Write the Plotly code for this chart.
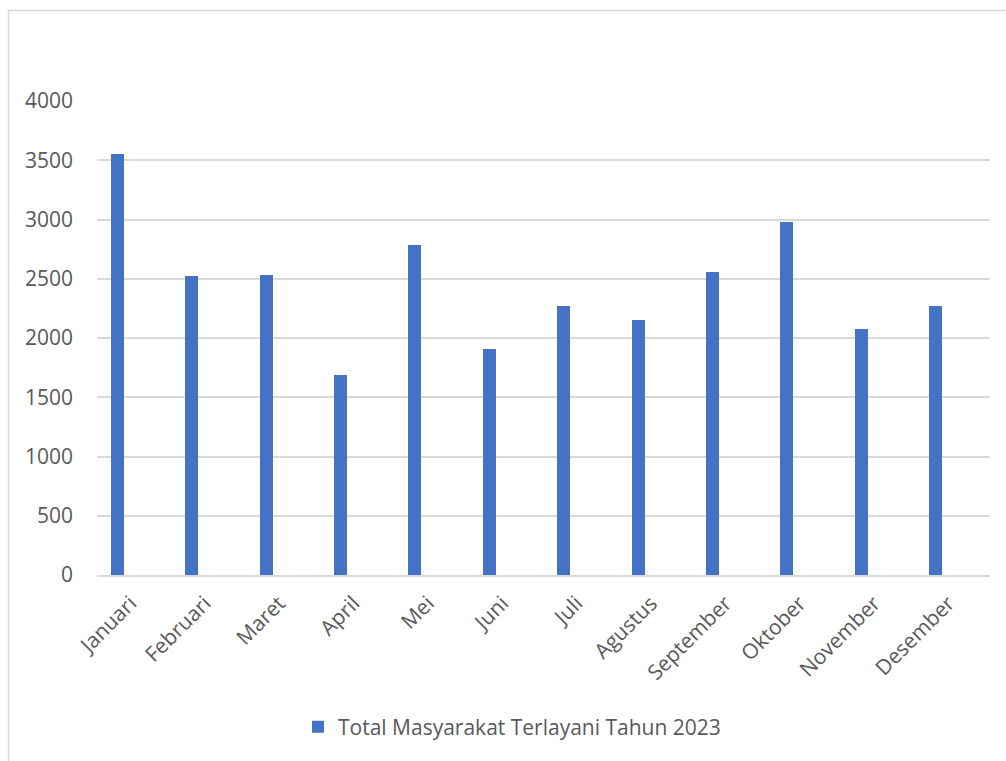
import plotly.graph_objects as go

months = ["Januari", "Februari", "Maret", "April", "Mei", "Juni", "Juli",
          "Agustus", "September", "Oktober", "November", "Desember"]
values = [3552, 2526, 2529, 1692, 2788, 1904, 2272, 2149, 2557, 2980, 2073, 2270]
series_name = "Total Masyarakat Terlayani Tahun 2023"
y_ticks = [0, 500, 1000, 1500, 2000, 2500, 3000, 3500, 4000]

W, H = 1006, 761
L, R, T, B = 97, 16, 101, 186

fig = go.Figure()
fig.add_trace(go.Bar(
    x=months, y=values, name=series_name,
    marker=dict(color="#4472C4", line=dict(width=0)),
    width=0.175,
    showlegend=True,
))

font_family = "Open Sans, Liberation Sans, sans-serif"
fig.update_layout(
    width=W, height=H,
    margin=dict(l=L, r=R, t=T, b=B, pad=0),
    paper_bgcolor="white", plot_bgcolor="white",
    font=dict(family=font_family, size=21, color="#595959"),
    bargap=0,
    xaxis=dict(
        type="category",
        range=[-0.276, 11.733],
        tickangle=-45,
        showgrid=False,
        showline=True, linecolor="#d9d9d9", linewidth=1.5,
        ticks="", ticklabelstandoff=6, ticklabelshift=13,
        tickfont=dict(size=21, color="#595959"),
        zeroline=False, fixedrange=True,
    ),
    yaxis=dict(
        range=[0, 4000],
        tickvals=y_ticks,
        showgrid=True, gridcolor="#d9d9d9", gridwidth=1.5,
        showline=False, zeroline=False,
        ticks="", ticklabelstandoff=23,
        tickfont=dict(size=21, color="#595959"),
        fixedrange=True,
    ),
    legend=dict(
        orientation="h",
        x=(298 - L) / (W - L - R), xanchor="left",
        y=(H - B - 727) / (H - T - B), yanchor="middle",
        font=dict(size=21, color="#595959"),
        bgcolor="rgba(0,0,0,0)",
    ),
    shapes=[dict(
        type="rect", xref="paper", yref="paper",
        x0=(8.5 - L) / (W - L - R), x1=(1030 - L) / (W - L - R),
        y0=(H - B - 790) / (H - T - B), y1=(H - B - 10.5) / (H - T - B),
        line=dict(color="#d9d9d9", width=1.5), fillcolor="rgba(0,0,0,0)",
        layer="below",
    )],
)

fig.write_html("out.html")
